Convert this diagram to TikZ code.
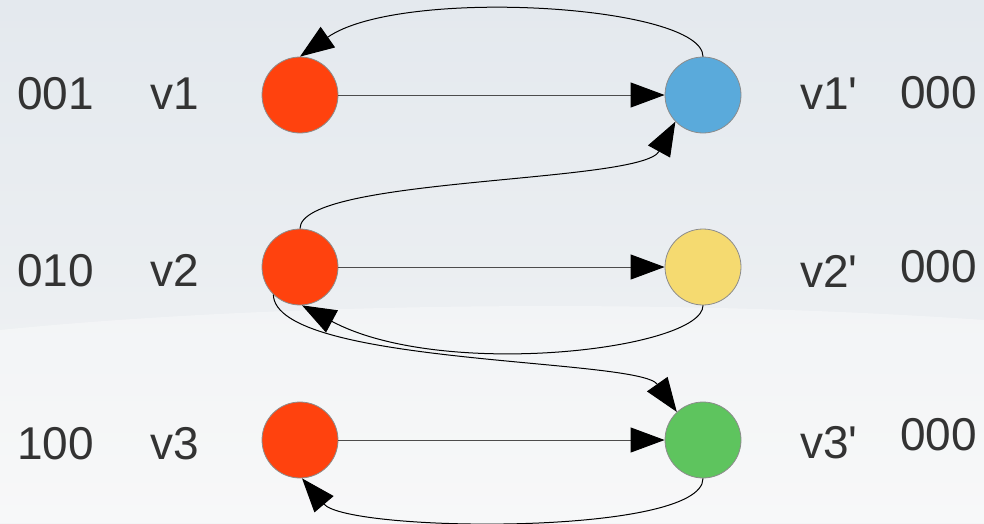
\documentclass[tikz,border=0pt]{standalone}
\usepackage{fontspec}
\setmainfont{Liberation Sans}
\usetikzlibrary{arrows.meta}
\definecolor{txt}{HTML}{333333}
\definecolor{vred}{HTML}{FF420E}
\definecolor{vblue}{HTML}{5AAADB}
\definecolor{vyellow}{HTML}{F5DA70}
\definecolor{vgreen}{HTML}{5EC45E}
\definecolor{bgtop}{HTML}{E4E9EE}
\definecolor{bgbot}{HTML}{F4F5F6}
\tikzset{
  vert/.style={circle, draw=gray!90, line width=0.8pt, minimum size=76pt, inner sep=0pt},
  lbl/.style={anchor=base west, inner sep=0pt, text=txt, font=\fontsize{46}{46}\selectfont},
  edge/.style={line width=1pt, -{Triangle[length=34pt, width=25pt, color=black]}},
  straight/.style={edge, draw=black!70},
}
\begin{document}
\begin{tikzpicture}[x=1pt, y=-1pt]
\path[use as bounding box, top color=bgtop, bottom color=bgbot, middle color=bgtop!60!bgbot] (0,0) rectangle (984,523);
\fill[white, opacity=0.35] (0,330) .. controls (300,300) and (700,300) .. (984,320) -- (984,523) -- (0,523) -- cycle;

\node[vert, fill=vred] (a1) at (300,95) {};
\node[vert, fill=vred] (a2) at (300,267) {};
\node[vert, fill=vred] (a3) at (300,440) {};
\node[vert, fill=vblue] (b1) at (703,95) {};
\node[vert, fill=vyellow] (b2) at (703,267) {};
\node[vert, fill=vgreen] (b3) at (703,440) {};

\node[lbl] (c1) at (17,109) {001};
\node[lbl] (c2) at (17,286) {010};
\node[lbl] (c3) at (17,459) {100};
\node[lbl] (n1) at (150,109) {v1};
\node[lbl] (n2) at (150,286) {v2};
\node[lbl] (n3) at (150,459) {v3};
\node[lbl] (m1) at (800,109) {v1\textquotesingle};
\node[lbl] (m2) at (800,287) {v2\textquotesingle};
\node[lbl] (m3) at (800,458) {v3\textquotesingle};
\node[lbl] (d1) at (900,108) {000};
\node[lbl] (d2) at (900,282) {000};
\node[lbl] (d3) at (900,450) {000};

\draw[straight] (a1) -- (b1);
\draw[straight] (a2) -- (b2);
\draw[straight] (a3) -- (b3);

\draw[edge] (b1.north) .. controls +(0,-52) and +(100,-70) .. (a1.north);
\draw[edge] (a2.north) .. controls +(0,-52) and +(-34,62) .. (b1.224);
\draw[edge] (b2.south) .. controls +(0,44) and +(140,75) .. (a2.-87);
\draw[edge] (a2.226) .. controls +(2,71) and +(-38,-54) .. (b3.133);
\draw[edge] (b3.south) .. controls +(0,58) and +(46,54) .. (a3.-87);
\end{tikzpicture}
\end{document}
